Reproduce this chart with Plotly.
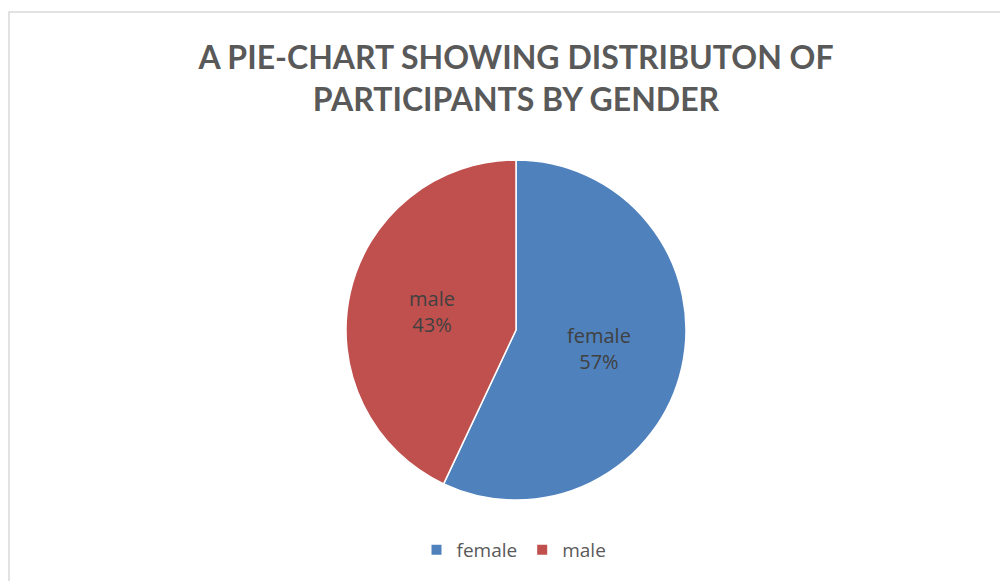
import plotly.graph_objects as go

labels = ["female", "male"]
values = [57, 43]
colors = ["#4F81BD", "#C0504D"]
title_lines = ["A PIE-CHART SHOWING DISTRIBUTON OF", "PARTICIPANTS BY GENDER"]

W, H = 1008, 581
OFF = 8  # page body margin
cx, cy, r = 516 - OFF, 330 - OFF, 170

fig = go.Figure(go.Pie(
    labels=labels,
    values=values,
    sort=False,
    direction="clockwise",
    rotation=0,
    marker=dict(colors=colors, line=dict(color="white", width=1.5)),
    texttemplate="%{label}<br>%{percent:.0%}",
    textposition="inside",
    insidetextorientation="horizontal",
    textfont=dict(family="Open Sans", size=20, color="#404040"),
    domain=dict(x=[(cx - r) / W, (cx + r) / W], y=[1 - (cy + r) / H, 1 - (cy - r) / H]),
    hoverinfo="label+percent",
))

fig.update_layout(
    width=W, height=H,
    margin=dict(l=0, r=0, t=0, b=0),
    paper_bgcolor="white",
    title=dict(
        text="<br>".join(title_lines),
        x=(516 - OFF) / W, xanchor="center", y=1 - 61 / H, yanchor="middle",
        font=dict(family="Lato", size=32, color="#595959", weight="bold"),
    ),
    showlegend=True,
    legend=dict(
        orientation="h", x=(514 - OFF) / W, xanchor="center", y=1 - (550 - OFF) / H, yanchor="middle",
        font=dict(family="Open Sans", size=19, color="#595959"),
        itemwidth=30, itemsizing="constant",
    ),
    shapes=[dict(type="rect", xref="paper", yref="paper",
                 x0=1 / W, x1=1.05, y0=-0.05, y1=1 - 4 / H,
                 line=dict(color="#D9D9D9", width=1.5))],
)

fig.write_html("out.html")
